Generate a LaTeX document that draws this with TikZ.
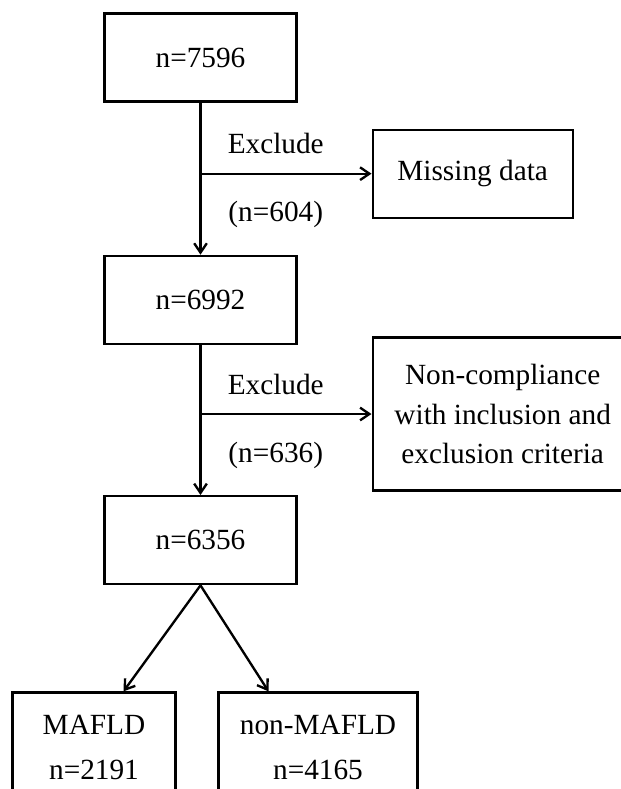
\documentclass[tikz,border=0pt]{standalone}
\usepackage{fontspec}
\setmainfont{Liberation Serif}
\usetikzlibrary{positioning,arrows.meta,calc}

\begin{document}
\begin{tikzpicture}[>={Straight Barb[length=2.8mm,width=3.8mm]},
   font=\fontsize{25}{34}\selectfont,
   box/.style={draw,line width=2pt,minimum width=57.6mm,minimum height=26.4mm,align=center},
   arr/.style={->,line width=2pt}]
  \useasboundingbox (0,0) rectangle (186.3mm,-236.7mm);
  \clip (0,0) rectangle (186.3mm,-236.7mm);
  \node[box] (n1) at (60.15mm,-17.25mm) {n=7596};
  \node[box] (n2) [below=45.6mm of n1] {n=6992};
  \node[box] (n3) [below=45mm of n2] {n=6356};
  \coordinate[below=21.3mm of n1] (c1);
  \coordinate[below=20.7mm of n2] (c2);
  \node[box,minimum width=60mm] (miss) [right=51.3mm of c1] {Missing data};
  \node[box,minimum width=78mm,minimum height=45.9mm] (nonc) [right=51.3mm of c2]
    {Non-compliance\\with inclusion and\\exclusion criteria};
  \node[box,minimum width=48.9mm,minimum height=33mm,font=\fontsize{25}{38}\selectfont]
    (mafld) [below=31.8mm of n3,xshift=-31.95mm] {MAFLD\\n=2191};
  \node[box,minimum width=59.7mm,minimum height=33mm,font=\fontsize{25}{38}\selectfont]
    (nmafld) [below=31.8mm of n3,xshift=35.25mm] {non-MAFLD\\n=4165};
  \draw[arr] (n1) -- (n2);
  \draw[arr] (n2) -- (n3);
  \draw[arr] (c1) -- node[pos=0.44,yshift=9mm]{Exclude}
    node[pos=0.44,yshift=-12.3mm]{(n=604)} (miss);
  \draw[arr] (c2) -- node[pos=0.44,yshift=9mm]{Exclude}
    node[pos=0.44,yshift=-12.3mm]{(n=636)} (nonc);
  \draw[arr] (n3.south) -- ([xshift=8.85mm]mafld.north);
  \draw[arr] (n3.south) -- ([xshift=-14.85mm]nmafld.north);
\end{tikzpicture}
\end{document}
